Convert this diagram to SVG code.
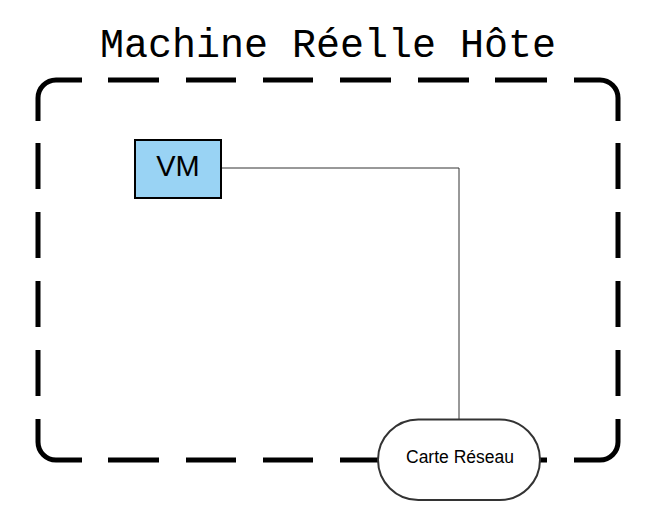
<svg xmlns="http://www.w3.org/2000/svg" width="658" height="524" viewBox="0 0 658 524">
<style>
.frame{fill:none;stroke:#000;stroke-width:5;stroke-linecap:butt}
.node{stroke-width:2}
.lbl{font-family:"Liberation Sans",Arial,sans-serif;fill:#000;text-anchor:middle}
.conn{fill:none;stroke:#333;stroke-width:1}
</style>
<rect width="658" height="524" fill="#fff"/>
<g id="host">
<text x="328" y="57" style="font-family:'Liberation Mono','DejaVu Sans Mono',monospace;font-size:40px;text-anchor:middle;fill:#000">Machine Réelle Hôte</text>
<path class="frame" d="M38,121 L38,98 A18,18 0 0 1 56,80 L82,80
M108,80 H159 M186,80 H236 M263,80 H313 M340,80 H391 M418,80 H469 M495,80 H547
M574,80 L600,80 A18,18 0 0 1 618,98 L618,121
M618,143 V189 M618,212 V258 M618,281 V327 M618,350 V396
M618,419 L618,442 A18,18 0 0 1 600,460 L574,460
M547,460 H495 M469,460 H418 M391,460 H340 M313,460 H263 M236,460 H186 M159,460 H108
M82,460 L56,460 A18,18 0 0 1 38,442 L38,419
M38,396 V350 M38,327 V281 M38,258 V212 M38,189 V143"/>
</g>
<g id="connectors">
<path class="conn" d="M221,168 H459 V419"/>
</g>
<g id="vm">
<rect class="node" x="135" y="140" width="86" height="58" fill="#99d3f4" stroke="#000"/>
<text class="lbl" x="178" y="176" style="font-size:29px">VM</text>
</g>
<g id="carte">
<rect class="node" x="378" y="419.5" width="162" height="80.5" rx="40.25" ry="40.25" fill="#fff" stroke="#333"/>
<text class="lbl" x="460" y="463" style="font-size:17.5px">Carte Réseau</text>
</g>
</svg>
